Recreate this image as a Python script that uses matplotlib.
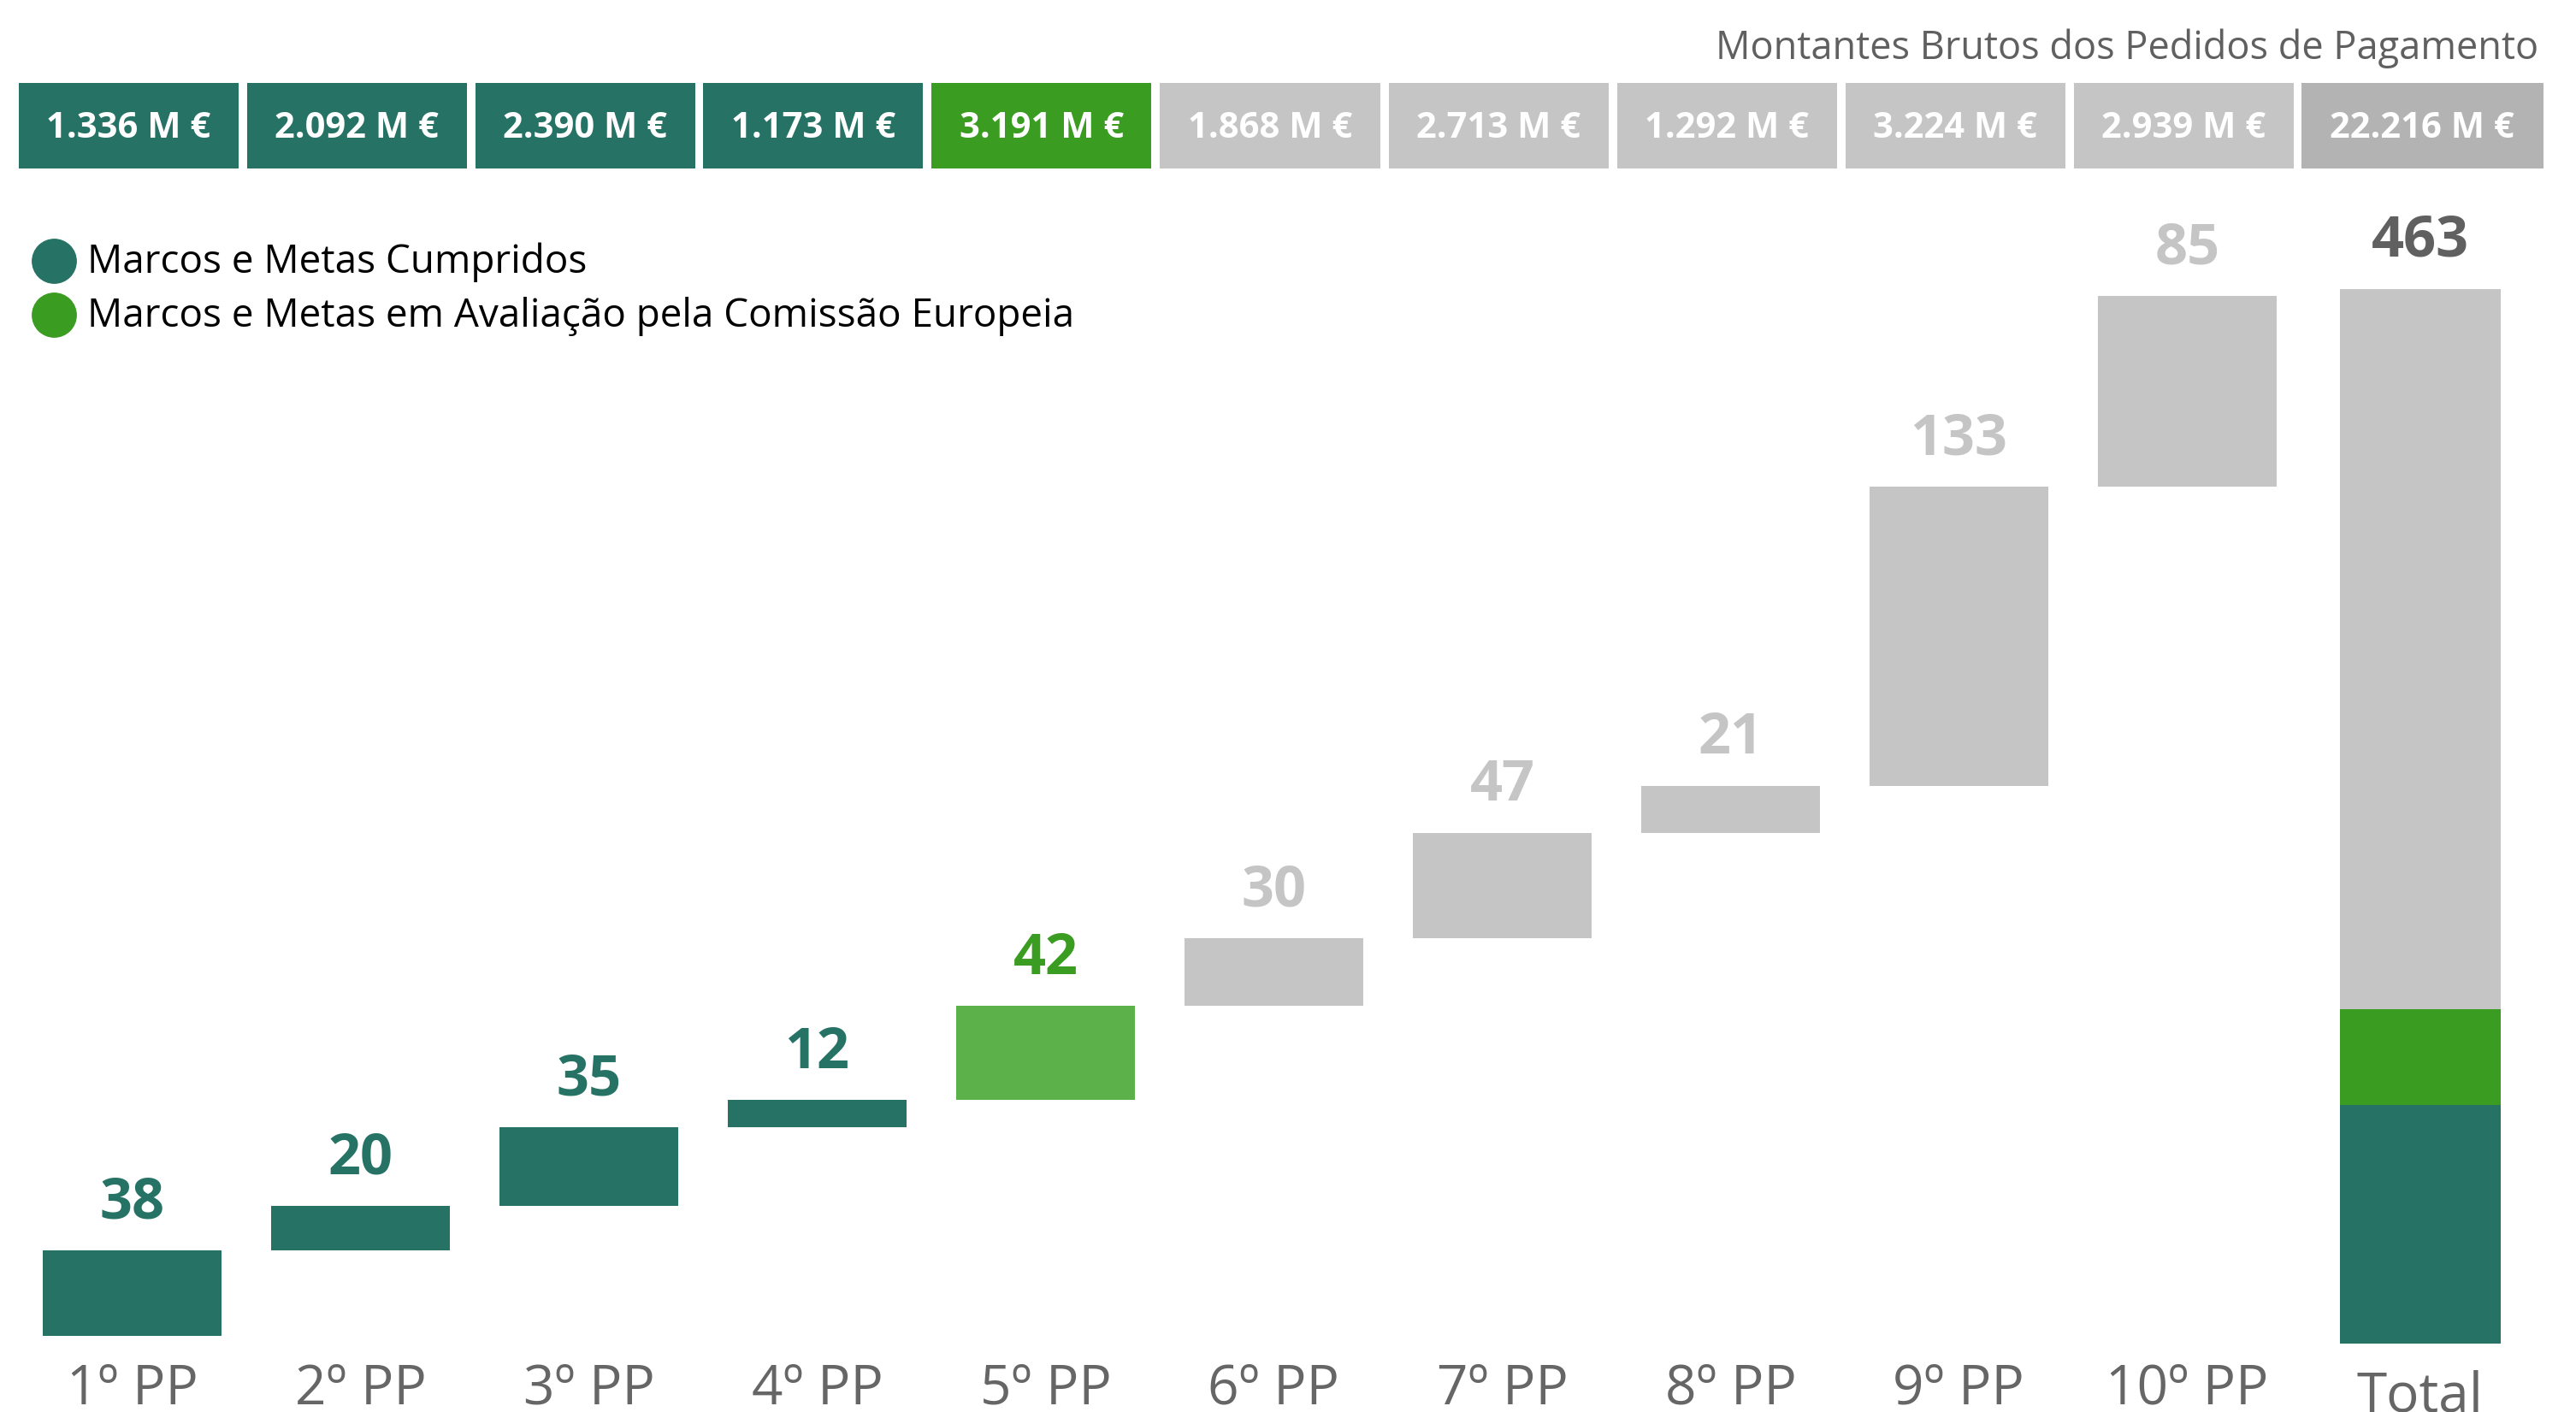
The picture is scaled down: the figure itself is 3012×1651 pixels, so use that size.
import matplotlib.pyplot as plt
from matplotlib.patches import Rectangle
import numpy as np

plt.rcParams['font.family'] = ['Open Sans', 'DejaVu Sans']

# data
categories = ['1º PP', '2º PP', '3º PP', '4º PP', '5º PP', '6º PP', '7º PP', '8º PP', '9º PP', '10º PP']
marcos = [38, 20, 35, 12, 42, 30, 47, 21, 133, 85]
status = ['done', 'done', 'done', 'done', 'eval', 'todo', 'todo', 'todo', 'todo', 'todo']
montantes = ['1.336 M €', '2.092 M €', '2.390 M €', '1.173 M €', '3.191 M €',
             '1.868 M €', '2.713 M €', '1.292 M €', '3.224 M €', '2.939 M €']
montante_total = '22.216 M €'

TEAL = '#267366'
GREEN = '#3A9D21'
LIGHT_GREEN = '#5DB14A'
GRAY = '#C5C5C5'
DARK_GRAY = '#B3B3B3'
TEXT_GRAY = '#606060'

bar_colors = {'done': TEAL, 'eval': LIGHT_GREEN, 'todo': GRAY}
label_colors = {'done': TEAL, 'eval': GREEN, 'todo': GRAY}
box_colors = {'done': TEAL, 'eval': GREEN, 'todo': GRAY}

fig = plt.figure(figsize=(30.12, 16.51), dpi=100)
ax = fig.add_axes([0.007, 0.0539, 0.975, 0.827])
# total column sits on its own, slightly different scale
ax2 = fig.add_axes([0.007, 0.0482, 0.975, 0.839])

n = len(marcos)
x = np.arange(n)
starts = np.concatenate([[0], np.cumsum(marcos)[:-1]])
total = sum(marcos)

ax.bar(x, marcos, bottom=starts, width=0.784,
       color=[bar_colors[s] for s in status])

for i in range(n):
    ax.annotate(str(marcos[i]), (x[i], starts[i] + marcos[i]), xytext=(0, 27),
                textcoords='offset points', ha='center', va='baseline',
                fontsize=48, fontweight='bold', color=label_colors[status[i]])

done_sum = sum(m for m, s in zip(marcos, status) if s == 'done')
eval_sum = sum(m for m, s in zip(marcos, status) if s == 'eval')
todo_sum = sum(m for m, s in zip(marcos, status) if s == 'todo')
xt = n + 0.02
ax2.bar(xt, done_sum, width=0.705, color=TEAL)
ax2.bar(xt, eval_sum, bottom=done_sum, width=0.705, color=GREEN)
ax2.bar(xt, todo_sum, bottom=done_sum + eval_sum, width=0.705, color=GRAY)
ax2.annotate(str(total), (xt, total), xytext=(0, 28), textcoords='offset points',
             ha='center', va='baseline', fontsize=48, fontweight='bold', color=TEXT_GRAY)

for a in (ax, ax2):
    a.set_xlim(-0.5, n + 0.5)
    a.set_ylim(0, 520)
    a.set_yticks([])
    a.patch.set_visible(False)
    a.tick_params(axis='x', length=0, pad=22, labelsize=46, labelcolor='#666666')
    for sp in a.spines.values():
        sp.set_visible(False)
ax.set_xticks(x)
ax.set_xticklabels(categories)
ax2.set_xticks([xt])
ax2.set_xticklabels(['Total'])

# header boxes with amounts (figure coordinates)
px = 1 / 3012
y0, h = 0.8807, 0.0606
bw = 257 * px
for i in range(n):
    cx = (150 + 267 * i) * px
    fig.add_artist(Rectangle((cx - bw / 2, y0), bw, h, transform=fig.transFigure,
                             facecolor=box_colors[status[i]], edgecolor='none'))
    fig.text(cx, y0 + h / 2 - 0.002, montantes[i], ha='center', va='center',
             fontsize=30, fontweight='bold', color='white')
cx = 2832 * px
fig.add_artist(Rectangle((cx - 283 * px / 2, y0), 283 * px, h, transform=fig.transFigure,
                         facecolor=DARK_GRAY, edgecolor='none'))
fig.text(cx, y0 + h / 2 - 0.002, montante_total, ha='center', va='center',
         fontsize=30, fontweight='bold', color='white')

fig.text(0.9854, 0.9655, 'Montantes Brutos dos Pedidos de Pagamento', ha='right',
         va='center', fontsize=32.5, color=TEXT_GRAY)

# legend
for yy, col, txt in [(0.8145, TEAL, 'Marcos e Metas Cumpridos'),
                     (0.7760, GREEN, 'Marcos e Metas em Avaliação pela Comissão Europeia')]:
    fig.add_artist(plt.Line2D([0.021], [yy + 0.001], marker='o', markersize=37, color=col,
                              linestyle='none', transform=fig.transFigure))
    fig.text(0.0338, yy, txt, ha='left', va='center', fontsize=33, color='black')

fig.savefig('out.png', dpi=100)
